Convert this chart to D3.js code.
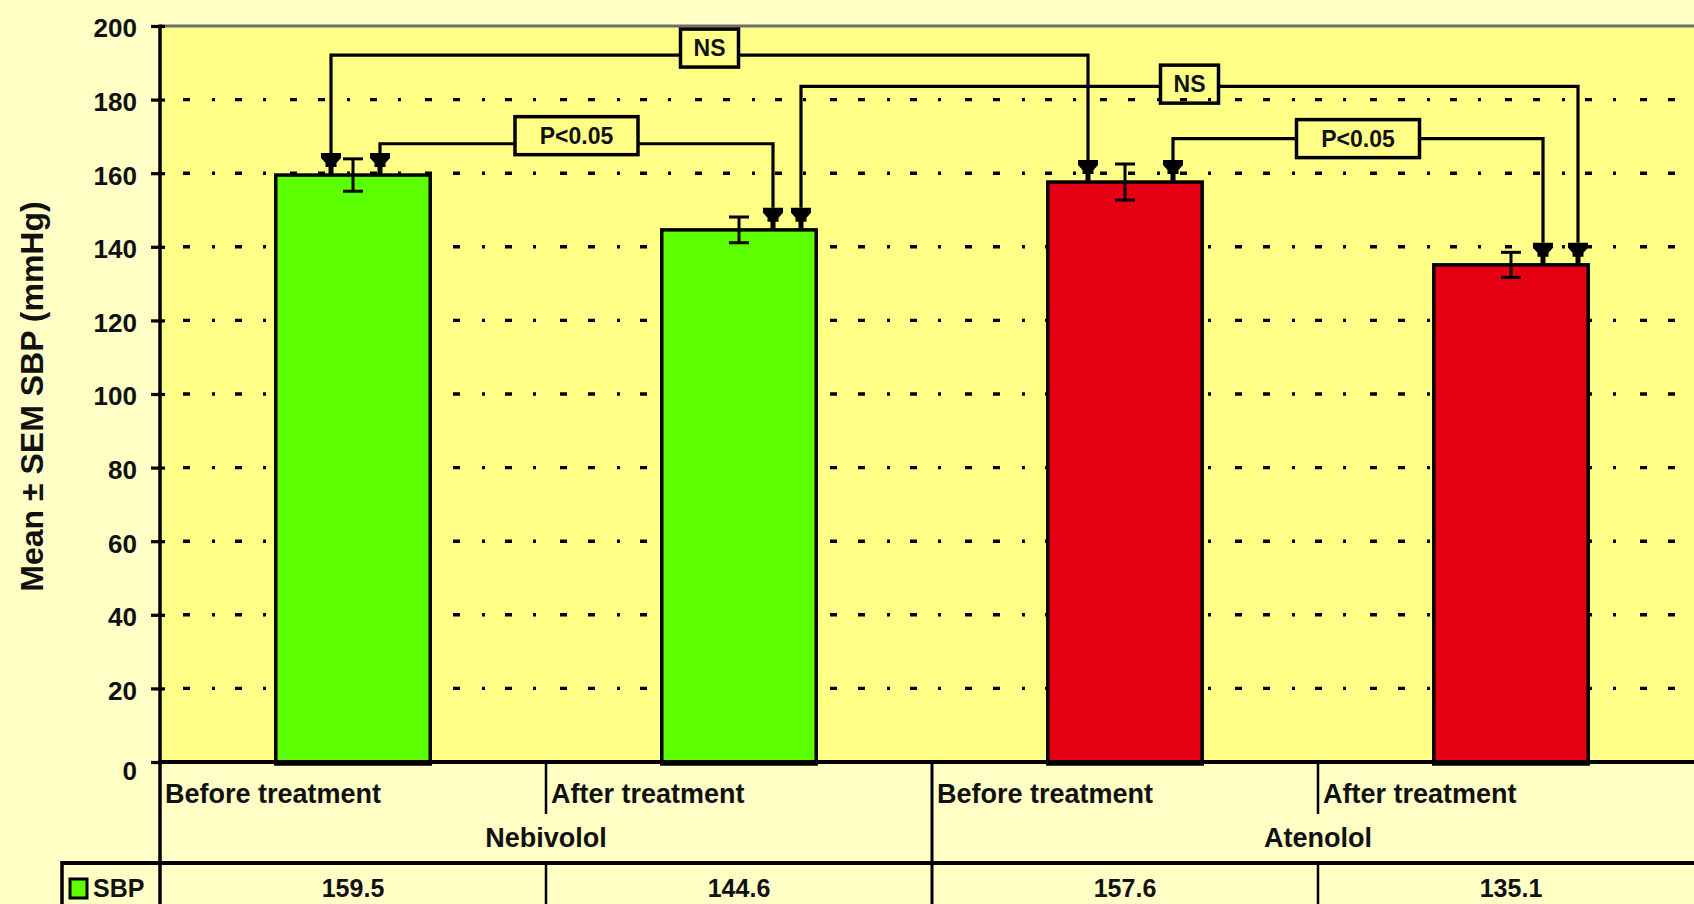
<!DOCTYPE html>
<html>
<head>
<meta charset="utf-8">
<script src="https://cdn.jsdelivr.net/npm/d3@7"></script>
<style>
  html, body { margin: 0; padding: 0; background: #FFFFC6; overflow: hidden; }
  svg { display: block; }
  text { font-family: "Liberation Sans", Arial, sans-serif; font-weight: bold; fill: #111; }
</style>
</head>
<body>
<svg id="chart" width="1694" height="904"></svg>
<script>
// ---------------- data ----------------
const categories = ["Before treatment", "After treatment", "Before treatment", "After treatment"];
const groups = ["Nebivolol", "Atenolol"];
const categoryGroup = [0, 0, 1, 1];
const seriesName = "SBP";
const sbpMean = [159.5, 144.6, 157.6, 135.1];
const sbpSem = [4.4, 3.5, 4.9, 3.4];
const yTicks = [0, 20, 40, 60, 80, 100, 120, 140, 160, 180, 200];
const yLabel = "Mean \u00B1 SEM SBP (mmHg)";
const tableValues = ["159.5", "144.6", "157.6", "135.1"];
// significance comparisons: bar index from/to, bracket level and label-box level (data units)
const comparisons = [
  { label: "NS",     from: 0, to: 2, level: 192.1, boxLevel: 194.0 },
  { label: "P<0.05", from: 0, to: 1, level: 168.0, boxLevel: 170.2 },
  { label: "NS",     from: 1, to: 3, level: 183.6, boxLevel: 184.2 },
  { label: "P<0.05", from: 2, to: 3, level: 169.4, boxLevel: 169.4 }
];

// ---------------- layout ----------------
const W = 1694, H = 904;
const plotLeft = 160, plotRight = 1704, plotTop = 26, plotBottom = 762;
const svg = d3.select("#chart");

const x = d3.scaleBand().domain(d3.range(categories.length)).range([plotLeft, plotRight]).paddingInner(0).paddingOuter(0);
const y = d3.scaleLinear().domain([0, 200]).range([plotBottom, plotTop]);
const groupColor = d3.scaleOrdinal().domain([0, 1]).range(["#5BFF00", "#E60014"]);
const barW = x.bandwidth() * 0.4;
const cx = i => x(i) + x.bandwidth() / 2;

// pixel offsets of bracket ends from bar centres
const endOffsets = [[-22, -37], [27, 34], [62, 67], [48, 32]];
const boxWidths = { "NS": 58, "P<0.05": 123 };
const boxH = 38;

// plot background
svg.append("rect").attr("x", plotLeft).attr("y", plotTop)
  .attr("width", W - plotLeft).attr("height", plotBottom - plotTop)
  .attr("fill", "#FFFF88");

// gridlines
svg.append("g").selectAll("line").data(yTicks.filter(t => t > 0 && t < 200)).join("line")
  .attr("x1", plotLeft).attr("x2", W)
  .attr("y1", d => y(d)).attr("y2", d => y(d))
  .attr("stroke", "#000").attr("stroke-width", 3.4)
  .attr("stroke-dasharray", "7,21,7,22,3,20,7,21,3,24")
  .attr("stroke-dashoffset", 5);

// top border
svg.append("line").attr("x1", plotLeft).attr("x2", W).attr("y1", plotTop).attr("y2", plotTop)
  .attr("stroke", "#6E6E6E").attr("stroke-width", 3);

// bars
svg.append("g").selectAll("rect").data(sbpMean).join("rect")
  .attr("x", (d, i) => cx(i) - barW / 2)
  .attr("y", d => y(d))
  .attr("width", barW)
  .attr("height", d => y(0) - y(d) + 2)
  .attr("fill", (d, i) => groupColor(categoryGroup[i]))
  .attr("stroke", "#000").attr("stroke-width", 3.5);

// error bars
const eb = svg.append("g").attr("stroke", "#000").attr("stroke-width", 3);
sbpMean.forEach((m, i) => {
  const c = cx(i), s = sbpSem[i];
  eb.append("line").attr("x1", c).attr("x2", c).attr("y1", y(m + s)).attr("y2", y(m - s));
  eb.append("line").attr("x1", c - 10).attr("x2", c + 10).attr("y1", y(m + s)).attr("y2", y(m + s));
  eb.append("line").attr("x1", c - 10).attr("x2", c + 10).attr("y1", y(m - s)).attr("y2", y(m - s));
});

// axes lines
svg.append("line").attr("x1", plotLeft).attr("x2", W).attr("y1", plotBottom).attr("y2", plotBottom)
  .attr("stroke", "#000").attr("stroke-width", 4);
svg.append("line").attr("x1", plotLeft).attr("x2", plotLeft).attr("y1", plotTop - 1.5).attr("y2", H)
  .attr("stroke", "#000").attr("stroke-width", 3.5);

// y axis via d3
const yAxis = d3.axisLeft(y).tickValues(yTicks).tickSizeInner(9).tickSizeOuter(0).tickPadding(14);
const gy = svg.append("g").attr("transform", `translate(${plotLeft},0)`).call(yAxis);
gy.select(".domain").remove();
gy.selectAll(".tick line").attr("stroke", "#000").attr("stroke-width", 3.2).attr("x2", -9).attr("x1", 5);
gy.selectAll(".tick text").attr("font-size", 26).attr("font-family", null).attr("fill", "#111")
  .attr("dy", d => d === 0 ? "0.68em" : "0.42em");

// y label
svg.append("text")
  .attr("transform", `translate(43,${(183 + 610) / 2}) rotate(-90)`)
  .attr("text-anchor", "middle").attr("font-size", 32)
  .text(yLabel);

// significance brackets
const ann = svg.append("g");
function arrowPath(xc, yb) {
  const p = [[-10, -22], [10, -22], [10, -17], [5.5, -12], [5.5, -8], [2.5, -8], [2.5, 0],
             [-2.5, 0], [-2.5, -8], [-5.5, -8], [-5.5, -12], [-10, -17]];
  return "M" + p.map(q => [xc + q[0], yb + q[1]].join(",")).join("L") + "Z";
}
comparisons.forEach((c, k) => {
  const xa = cx(c.from) + endOffsets[k][0];
  const xb = cx(c.to) + endOffsets[k][1];
  const yl = y(c.level);
  const ya = y(sbpMean[c.from]);
  const yb = y(sbpMean[c.to]);
  const bw = boxWidths[c.label];
  const bx = (xa + xb) / 2;
  const by = y(c.boxLevel);
  ann.append("path")
    .attr("d", `M${xa},${ya - 22}V${yl}H${bx - bw / 2}M${bx + bw / 2},${yl}H${xb}V${yb - 22}`)
    .attr("fill", "none").attr("stroke", "#000").attr("stroke-width", 3.2);
  ann.append("path").attr("d", arrowPath(xa, ya)).attr("fill", "#000");
  ann.append("path").attr("d", arrowPath(xb, yb)).attr("fill", "#000");
  ann.append("rect").attr("x", bx - bw / 2).attr("y", by - boxH / 2)
    .attr("width", bw).attr("height", boxH)
    .attr("fill", "none").attr("stroke", "#000").attr("stroke-width", 3.5);
  ann.append("text").attr("x", bx).attr("y", by).attr("dy", "0.36em")
    .attr("text-anchor", "middle").attr("font-size", 23).attr("fill", "#333")
    .text(c.label);
});

// category table
const tbl = svg.append("g").attr("stroke", "#000");
categories.forEach((cat, i) => {
  if (i > 0 && categoryGroup[i] === categoryGroup[i - 1]) {
    tbl.append("line").attr("x1", x(i)).attr("x2", x(i)).attr("y1", plotBottom).attr("y2", 814).attr("stroke-width", 2.5);
    tbl.append("line").attr("x1", x(i)).attr("x2", x(i)).attr("y1", 863).attr("y2", H).attr("stroke-width", 2.5);
  } else if (i > 0) {
    tbl.append("line").attr("x1", x(i)).attr("x2", x(i)).attr("y1", plotBottom).attr("y2", H).attr("stroke-width", 3);
  }
});
tbl.append("line").attr("x1", 62).attr("x2", W).attr("y1", 863).attr("y2", 863).attr("stroke-width", 4);
tbl.append("line").attr("x1", 62).attr("x2", 62).attr("y1", 861).attr("y2", H).attr("stroke-width", 3.5);

svg.append("g").selectAll("text").data(categories).join("text")
  .attr("x", (d, i) => x(i) + 5).attr("y", 803)
  .attr("font-size", 27).text(d => d);

groups.forEach((g, gi) => {
  const idx = d3.range(categories.length).filter(i => categoryGroup[i] === gi);
  const x0 = x(idx[0]), x1 = x(idx[idx.length - 1]) + x.bandwidth();
  svg.append("text").attr("x", (x0 + x1) / 2).attr("y", 847)
    .attr("text-anchor", "middle").attr("font-size", 27).text(g);
});

svg.append("g").selectAll("text").data(tableValues).join("text")
  .attr("x", (d, i) => cx(i)).attr("y", 897)
  .attr("text-anchor", "middle").attr("font-size", 25).text(d => d);

// legend key
svg.append("rect").attr("x", 70).attr("y", 879).attr("width", 17).attr("height", 19)
  .attr("fill", groupColor(0)).attr("stroke", "#000").attr("stroke-width", 3);
svg.append("text").attr("x", 93).attr("y", 897).attr("font-size", 25).text(seriesName);
</script>
</body>
</html>
